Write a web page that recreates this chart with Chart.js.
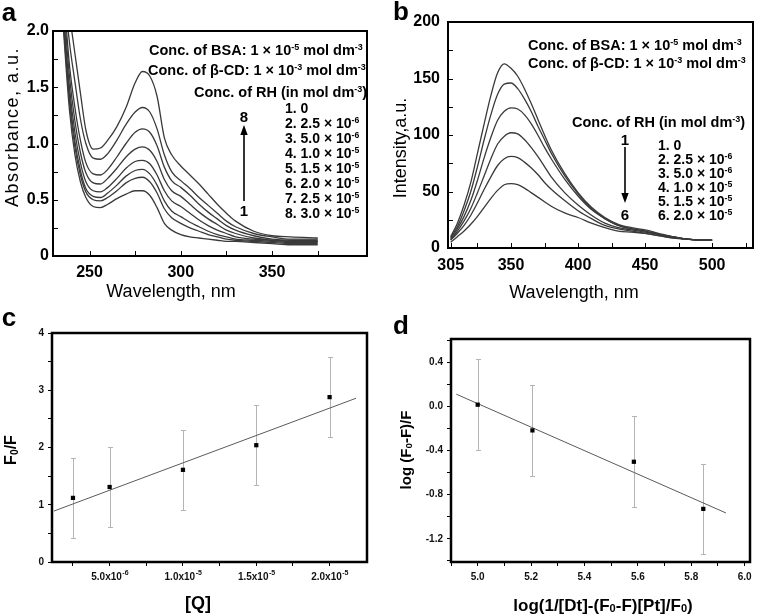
<!DOCTYPE html>
<html>
<head>
<meta charset="utf-8">
<script src="https://cdn.jsdelivr.net/npm/chart.js@4.4.1/dist/chart.umd.min.js"></script>
<style>
  body { margin: 0; background: #fff; }
  #fig { position: relative; width: 778px; height: 616px; overflow: hidden;
         font-family: "Liberation Sans", Arial, sans-serif; color: #000; }
  #fig canvas { position: absolute; }
  .t { position: absolute; white-space: nowrap; line-height: 1; transform: translate(-50%, -50%); }
  .l { position: absolute; white-space: nowrap; line-height: 1; transform: translate(0, -50%);
       font-weight: bold; font-size: 14px; }
  .rot { transform: translate(-50%, -50%) rotate(-90deg); }
  .b { font-weight: bold; }
  sup { font-size: 0.62em; vertical-align: 0.55em; line-height: 0; }
  sub { font-size: 0.65em; vertical-align: -0.15em; line-height: 0; }
</style>
</head>
<body>
<div id="fig">
  <canvas id="cA" width="390" height="300" style="left:0;top:0"></canvas>
  <canvas id="cB" width="388" height="300" style="left:390px;top:0"></canvas>
  <canvas id="cC" width="390" height="316" style="left:0;top:300px"></canvas>
  <canvas id="cD" width="388" height="316" style="left:390px;top:300px"></canvas>

  <svg style="position:absolute;left:0;top:0" width="778" height="616">
    <line x1="244" y1="201" x2="244" y2="133" stroke="#000" stroke-width="1.6"/>
    <polygon points="244,125 240.3,135 247.7,135" fill="#000"/>
    <line x1="625" y1="147" x2="625" y2="194" stroke="#000" stroke-width="1.6"/>
    <polygon points="625,203 621.3,193 628.7,193" fill="#000"/>
  </svg>

  <!-- panel letters -->
  <div class="t b" style="left:9px;top:12px;font-size:26px">a</div>
  <div class="t b" style="left:401px;top:11px;font-size:26px">b</div>
  <div class="t b" style="left:9px;top:317px;font-size:26px">c</div>
  <div class="t b" style="left:401px;top:325px;font-size:26px">d</div>

  <!-- panel a text -->
  <div class="t rot" style="left:12px;top:127px;font-size:18px;letter-spacing:1.5px">Absorbance, a.u.</div>
  <div class="t" style="left:171px;top:291px;font-size:18px">Wavelength, nm</div>
  <div class="l" style="left:149px;top:50px;font-size:14.5px">Conc. of BSA: 1 × 10<sup>-5</sup> mol dm<sup>-3</sup></div>
  <div class="l" style="left:148px;top:70px;font-size:14.5px">Conc. of β-CD: 1 × 10<sup>-3</sup> mol dm<sup>-3</sup></div>
  <div class="l" style="left:194px;top:92px;font-size:14.5px">Conc. of RH (in mol dm<sup>-3</sup>)</div>
  <div class="l" style="left:285px;top:108px">1. 0</div>
  <div class="l" style="left:285px;top:123px">2. 2.5 × 10<sup>-6</sup></div>
  <div class="l" style="left:285px;top:138px">3. 5.0 × 10<sup>-6</sup></div>
  <div class="l" style="left:285px;top:153px">4. 1.0 × 10<sup>-5</sup></div>
  <div class="l" style="left:285px;top:168px">5. 1.5 × 10<sup>-5</sup></div>
  <div class="l" style="left:285px;top:183px">6. 2.0 × 10<sup>-5</sup></div>
  <div class="l" style="left:285px;top:198px">7. 2.5 × 10<sup>-5</sup></div>
  <div class="l" style="left:285px;top:213px">8. 3.0 × 10<sup>-5</sup></div>
  <div class="t b" style="left:244px;top:116px;font-size:15px">8</div>
  <div class="t b" style="left:244px;top:210px;font-size:15px">1</div>

  <!-- panel b text -->
  <div class="t rot" style="left:400px;top:148px;font-size:18px">Intensity,a.u.</div>
  <div class="t" style="left:574px;top:292px;font-size:18px">Wavelength, nm</div>
  <div class="l" style="left:528px;top:45px;font-size:14.5px">Conc. of BSA: 1 × 10<sup>-5</sup> mol dm<sup>-3</sup></div>
  <div class="l" style="left:528px;top:63px;font-size:14.5px">Conc. of β-CD: 1 × 10<sup>-3</sup> mol dm<sup>-3</sup></div>
  <div class="l" style="left:572px;top:122px;font-size:14.5px">Conc. of RH (in mol dm<sup>-3</sup>)</div>
  <div class="l" style="left:658px;top:145px">1. 0</div>
  <div class="l" style="left:658px;top:159px">2. 2.5 × 10<sup>-6</sup></div>
  <div class="l" style="left:658px;top:173px">3. 5.0 × 10<sup>-6</sup></div>
  <div class="l" style="left:658px;top:187px">4. 1.0 × 10<sup>-5</sup></div>
  <div class="l" style="left:658px;top:201px">5. 1.5 × 10<sup>-5</sup></div>
  <div class="l" style="left:658px;top:215px">6. 2.0 × 10<sup>-5</sup></div>
  <div class="t b" style="left:625px;top:139px;font-size:15px">1</div>
  <div class="t b" style="left:625px;top:214px;font-size:15px">6</div>

  <!-- panel c / d text -->
  <div class="t rot b" style="left:11px;top:450px;font-size:16px">F<sub>0</sub>/F</div>
  <div class="t b" style="left:198px;top:603px;font-size:18px">[Q]</div>
  <div class="t rot b" style="left:405px;top:450px;font-size:15px">log (F<sub>0</sub>-F)/F</div>
  <div class="t b" style="left:603px;top:605px;font-size:17px">log(1/[Dt]-(F<sub>0</sub>-F)[Pt]/F<sub>0</sub>)</div>
</div>

<script>
// ---- panel a: absorbance spectra (8 RH concentrations) ----
const aWave = [233, 236, 239, 242, 245, 248, 252, 256, 260, 265, 270, 275, 279, 283, 287, 291, 295, 300, 305, 310, 315, 320, 325, 330, 340, 350, 360, 375];
const abs1 = [2.7, 1.95, 1.3, 0.9, 0.66, 0.52, 0.44, 0.43, 0.46, 0.51, 0.55, 0.58, 0.58, 0.54, 0.43, 0.29, 0.23, 0.19, 0.17, 0.16, 0.15, 0.14, 0.13, 0.13, 0.12, 0.11, 0.10, 0.10];
const abs2 = [2.75, 2.0, 1.38, 0.97, 0.72, 0.57, 0.5, 0.49, 0.52, 0.58, 0.65, 0.69, 0.70, 0.66, 0.56, 0.42, 0.34, 0.29, 0.25, 0.22, 0.19, 0.17, 0.15, 0.14, 0.13, 0.12, 0.11, 0.11];
const abs3 = [2.8, 2.05, 1.43, 1.02, 0.76, 0.6, 0.53, 0.52, 0.56, 0.63, 0.71, 0.76, 0.77, 0.73, 0.63, 0.49, 0.40, 0.35, 0.30, 0.26, 0.22, 0.19, 0.17, 0.15, 0.14, 0.13, 0.12, 0.12];
const abs4 = [2.85, 2.1, 1.5, 1.1, 0.83, 0.66, 0.58, 0.57, 0.61, 0.69, 0.78, 0.84, 0.85, 0.82, 0.72, 0.58, 0.49, 0.44, 0.38, 0.32, 0.27, 0.23, 0.2, 0.17, 0.15, 0.14, 0.13, 0.13];
const abs5 = [2.9, 2.2, 1.6, 1.2, 0.92, 0.74, 0.65, 0.64, 0.69, 0.78, 0.88, 0.95, 0.97, 0.94, 0.84, 0.68, 0.58, 0.53, 0.46, 0.39, 0.33, 0.28, 0.23, 0.2, 0.16, 0.14, 0.13, 0.13];
const abs6 = [2.95, 2.3, 1.7, 1.32, 1.03, 0.83, 0.73, 0.72, 0.77, 0.88, 1.0, 1.1, 1.13, 1.1, 0.98, 0.79, 0.67, 0.61, 0.54, 0.46, 0.39, 0.33, 0.27, 0.23, 0.18, 0.15, 0.14, 0.14];
const abs7 = [3.0, 2.4, 1.9, 1.55, 1.22, 1.0, 0.87, 0.86, 0.91, 1.03, 1.17, 1.28, 1.32, 1.28, 1.13, 0.9, 0.75, 0.67, 0.6, 0.52, 0.45, 0.38, 0.31, 0.26, 0.2, 0.17, 0.15, 0.15];
const abs8 = [3.0, 2.5, 2.15, 1.8, 1.45, 1.12, 0.95, 0.96, 1.03, 1.15, 1.32, 1.54, 1.64, 1.6, 1.42, 1.05, 0.9, 0.8, 0.72, 0.64, 0.55, 0.46, 0.38, 0.31, 0.22, 0.18, 0.17, 0.16];
const aXTicks = [250, 275, 300, 325, 350, 375];
const aXLabels = [250, 300, 350];
const aYTicks = [0, 0.25, 0.5, 0.75, 1.0, 1.25, 1.5, 1.75, 2.0];
const aYLabels = ['0', '', '0.5', '', '1.0', '', '1.5', '', '2.0'];

// ---- panel b: fluorescence spectra (6 RH concentrations) ----
const bWave = [305, 310, 315, 320, 325, 330, 335, 340, 345, 350, 355, 360, 365, 370, 375, 380, 390, 400, 410, 420, 430, 440, 450, 460, 470, 480, 490, 500];
const fl1 = [10, 22, 38, 58, 84, 110, 135, 155, 163, 159, 152, 141, 128, 114, 100, 87, 66, 49, 36, 27, 21, 18, 16, 13, 10, 8, 7, 7];
const fl2 = [9, 19, 33, 50, 72, 96, 118, 136, 145, 146, 141, 132, 121, 108, 96, 84, 64, 48, 35, 26, 20, 17, 15, 12, 10, 8, 7, 7];
const fl3 = [8, 17, 28, 42, 60, 80, 98, 113, 121, 124, 123, 118, 110, 100, 89, 79, 61, 46, 34, 26, 20, 17, 15, 12, 10, 8, 7, 7];
const fl4 = [7, 15, 24, 35, 49, 64, 79, 92, 99, 102, 101, 96, 89, 81, 72, 63, 49, 38, 29, 22, 18, 16, 14, 12, 10, 8, 7, 7];
const fl5 = [7, 13, 20, 29, 40, 52, 63, 73, 79, 81, 80, 76, 71, 65, 58, 52, 42, 33, 26, 20, 17, 15, 13, 11, 9, 8, 7, 7];
const fl6 = [5, 10, 15, 21, 28, 36, 44, 51, 56, 57, 56, 53, 49, 45, 41, 37, 31, 27, 22, 18, 15, 14, 13, 11, 9, 8, 7, 7];
const bXTicks = [305, 325, 350, 375, 400, 425, 450, 475, 500, 525];
const bXLabels = [305, 350, 400, 450, 500];
const bYTicks = [0, 25, 50, 75, 100, 125, 150, 175, 200];
const bYLabels = [0, 50, 100, 150, 200];

// ---- panel c: Stern-Volmer plot ----
const cConc = [2.5e-6, 5e-6, 1e-5, 1.5e-5, 2e-5];
const cRatio = [1.12, 1.31, 1.61, 2.04, 2.88];
const cErr = [0.7, 0.7, 0.7, 0.7, 0.7];
const cFitX = [1.2e-6, 2.18e-5];
const cFitY = [0.89, 2.86];
const cXTicks = [2.5e-6, 5e-6, 7.5e-6, 1e-5, 1.25e-5, 1.5e-5, 1.75e-5, 2e-5];
// mantissa + exponent, drawn with a raised exponent
const cXMant = ['', '5.0x10', '', '1.0x10', '', '1.5x10', '', '2.0x10'];
const cXExp = ['', '-6', '', '-5', '', '-5', '', '-5'];
const cYTicks = [0, 0.5, 1, 1.5, 2, 2.5, 3, 3.5, 4];
const cYLabels = ['0', '', '1', '', '2', '', '3', '', '4'];

// ---- panel d: double log plot ----
const dLogX = [5.0, 5.205, 5.585, 5.845];
const dLogY = [0.015, -0.218, -0.502, -0.929];
const dErr = [0.41, 0.41, 0.41, 0.41];
const dFitX = [4.92, 5.93];
const dFitY = [0.11, -0.966];
const dXTicks = [4.9, 5.0, 5.1, 5.2, 5.3, 5.4, 5.5, 5.6, 5.7, 5.8, 5.9, 6.0];
const dXLabels = ['', '5.0', '', '5.2', '', '5.4', '', '5.6', '', '5.8', '', '6.0'];
const dYTicks = [-1.4, -1.2, -1.0, -0.8, -0.6, -0.4, -0.2, 0, 0.2, 0.4, 0.6];
const dYLabels = ['', '-1.2', '', '-0.8', '', '-0.4', '', '0.0', '', '0.4', ''];

const FONT = "'Liberation Sans', Arial, sans-serif";

const toPoints = (xs, ys) => xs.map((x, i) => ({x: x, y: ys[i]}));

// pin the plot box to fixed pixels
const fitX = h => s => { s.height = h; s.paddingLeft = 0; s.paddingRight = 0; };
const fitY = w => s => { s.width = w; s.paddingTop = 0; s.paddingBottom = 0; };
const setTicks = list => s => { s.ticks = list.map(v => ({value: v})); };

// box around the plot area
const frame = {
  id: 'frame',
  afterDraw(chart, args, opts) {
    const {ctx, chartArea: a} = chart;
    ctx.save();
    ctx.strokeStyle = '#000';
    ctx.lineWidth = opts.width || 2;
    ctx.strokeRect(a.left, a.top, a.right - a.left, a.bottom - a.top);
    ctx.restore();
  }
};

// tick marks that point into the plot (panels a, b)
const innerTicks = {
  id: 'innerTicks',
  afterDatasetsDraw(chart, args, opts) {
    if (!opts.len) return;
    const {ctx, chartArea: a, scales} = chart;
    ctx.save();
    ctx.strokeStyle = '#000';
    ctx.lineWidth = 1;
    ctx.beginPath();
    scales.x.ticks.forEach(t => {
      const px = Math.round(scales.x.getPixelForValue(t.value)) + 0.5;
      if (px < a.left + 3 || px > a.right - 3) return;
      ctx.moveTo(px, a.bottom);
      ctx.lineTo(px, a.bottom - opts.len);
    });
    scales.y.ticks.forEach(t => {
      const py = Math.round(scales.y.getPixelForValue(t.value)) + 0.5;
      if (py < a.top + 3 || py > a.bottom - 3) return;
      ctx.moveTo(a.left, py);
      ctx.lineTo(a.left + opts.len, py);
    });
    ctx.stroke();
    ctx.restore();
  }
};

// vertical error bars, read from dataset.errY
const errorBars = {
  id: 'errorBars',
  beforeDatasetsDraw(chart) {
    const {ctx, scales: {x, y}} = chart;
    chart.data.datasets.forEach(ds => {
      if (!ds.errY) return;
      ctx.save();
      ctx.strokeStyle = '#b4b4b4';
      ctx.lineWidth = 1;
      ctx.beginPath();
      ds.data.forEach((p, i) => {
        const px = Math.round(x.getPixelForValue(p.x)) + 0.5;
        const top = Math.round(y.getPixelForValue(p.y + ds.errY[i])) + 0.5;
        const bot = Math.round(y.getPixelForValue(p.y - ds.errY[i])) + 0.5;
        ctx.moveTo(px, top); ctx.lineTo(px, bot);
        ctx.moveTo(px - 2.5, top); ctx.lineTo(px + 2.5, top);
        ctx.moveTo(px - 2.5, bot); ctx.lineTo(px + 2.5, bot);
      });
      ctx.stroke();
      ctx.restore();
    });
  }
};

// x tick labels with a superscript exponent (panel c)
const expLabels = {
  id: 'expLabels',
  afterDraw(chart, args, opts) {
    if (!opts.mant) return;
    const {ctx, chartArea: a, scales: {x}} = chart;
    ctx.save();
    ctx.fillStyle = '#111';
    ctx.textBaseline = 'middle';
    ctx.textAlign = 'left';
    x.ticks.forEach((t, i) => {
      const m = opts.mant[i], e = opts.exp[i];
      if (!m) return;
      ctx.font = 'bold 10px ' + FONT;
      const wm = ctx.measureText(m).width;
      ctx.font = 'bold 7px ' + FONT;
      const we = ctx.measureText(e).width;
      const x0 = x.getPixelForValue(t.value) - (wm + we) / 2;
      const yc = a.bottom + 15;
      ctx.font = 'bold 10px ' + FONT;
      ctx.fillText(m, x0, yc);
      ctx.font = 'bold 7px ' + FONT;
      ctx.fillText(e, x0 + wm + 0.5, yc - 4);
    });
    ctx.restore();
  }
};

function baseOptions(area, W) {
  return {
    responsive: false,
    animation: false,
    events: [],
    layout: {padding: {left: 0, top: area.t, right: W - area.r, bottom: 0}},
    plugins: {legend: {display: false}, tooltip: {enabled: false}}
  };
}

function spectrumChart(id, area, W, H, xs, series, x, y) {
  const opts = baseOptions(area, W);
  opts.plugins.frame = {width: 2};
  opts.plugins.innerTicks = {len: 5};
  const tickFont = {family: FONT, size: 16, weight: 'bold'};
  opts.scales = {
    x: {
      type: 'linear', min: x.min, max: x.max,
      afterBuildTicks: setTicks(x.ticks),
      afterFit: fitX(H - area.b),
      grid: {display: false, drawTicks: false}, border: {display: false},
      ticks: {autoSkip: false, maxRotation: 0, padding: x.pad, color: '#000', font: tickFont,
              callback: v => x.labels.includes(v) ? String(v) : ''}
    },
    y: {
      type: 'linear', min: y.min, max: y.max,
      afterBuildTicks: setTicks(y.ticks),
      afterFit: fitY(area.l),
      grid: {display: false, drawTicks: false}, border: {display: false},
      ticks: {autoSkip: false, padding: y.pad, color: '#000', font: tickFont,
              callback: y.fmt}
    }
  };
  return new Chart(document.getElementById(id), {
    type: 'line',
    data: {
      datasets: series.map(s => ({
        data: toPoints(xs, s),
        borderColor: '#3a3a3a',
        borderWidth: 1.3,
        pointRadius: 0,
        cubicInterpolationMode: 'monotone',
        fill: false
      }))
    },
    options: opts,
    plugins: [frame, innerTicks]
  });
}

function fitChart(id, area, W, H, pts, err, fit, x, y) {
  const opts = baseOptions(area, W);
  opts.plugins.frame = {width: 2.5};
  opts.plugins.expLabels = x.exp ? {mant: x.labels, exp: x.exp} : {};
  const tickFont = {family: FONT, size: 10, weight: 'bold'};
  const grid = {display: true, drawOnChartArea: false, drawTicks: true, tickLength: 4, color: '#000', lineWidth: 1};
  opts.scales = {
    x: {
      type: 'linear', min: x.min, max: x.max,
      afterBuildTicks: setTicks(x.ticks),
      afterFit: fitX(H - area.b),
      grid: grid, border: {display: false},
      ticks: {autoSkip: false, maxRotation: 0, padding: 5, color: '#111', font: tickFont,
              callback: (v, i) => x.exp ? '' : x.labels[i]}
    },
    y: {
      type: 'linear', min: y.min, max: y.max,
      afterBuildTicks: setTicks(y.ticks),
      afterFit: fitY(area.l),
      grid: grid, border: {display: false},
      ticks: {autoSkip: false, padding: 4, color: '#111', font: tickFont,
              callback: (v, i) => y.labels[i]}
    }
  };
  return new Chart(document.getElementById(id), {
    type: 'scatter',
    data: {
      datasets: [
        {data: pts, errY: err, pointStyle: 'rect', pointRadius: 3, backgroundColor: '#000', borderColor: '#000', borderWidth: 0, showLine: false},
        {data: fit, showLine: true, pointRadius: 0, borderColor: '#5a5a5a', borderWidth: 1}
      ]
    },
    options: opts,
    plugins: [frame, errorBars, expLabels]
  });
}

spectrumChart('cA', {l: 53, r: 367, t: 31, b: 256}, 390, 300, aWave,
  [abs1, abs2, abs3, abs4, abs5, abs6, abs7, abs8],
  {min: 230, max: 402, ticks: aXTicks, labels: aXLabels, pad: 7},
  {min: 0, max: 2, ticks: aYTicks, pad: 4, fmt: (v, i) => aYLabels[i]});

spectrumChart('cB', {l: 58, r: 363, t: 22, b: 248}, 388, 300, bWave,
  [fl1, fl2, fl3, fl4, fl5, fl6],
  {min: 303, max: 530.5, ticks: bXTicks, labels: bXLabels, pad: 8},
  {min: 0, max: 200, ticks: bYTicks, pad: 8, fmt: v => bYLabels.includes(v) ? String(v) : ''});

fitChart('cC', {l: 52, r: 367, t: 33, b: 262}, 390, 316,
  toPoints(cConc, cRatio), cErr, toPoints(cFitX, cFitY),
  {min: 1.07e-6, max: 2.255e-5, ticks: cXTicks, labels: cXMant, exp: cXExp},
  {min: 0, max: 4, ticks: cYTicks, labels: cYLabels});

fitChart('cD', {l: 61, r: 360, t: 39, b: 262}, 388, 316,
  toPoints(dLogX, dLogY), dErr, toPoints(dFitX, dFitY),
  {min: 4.9, max: 6.02, ticks: dXTicks, labels: dXLabels},
  {min: -1.41, max: 0.61, ticks: dYTicks, labels: dYLabels});
</script>
</body>
</html>
